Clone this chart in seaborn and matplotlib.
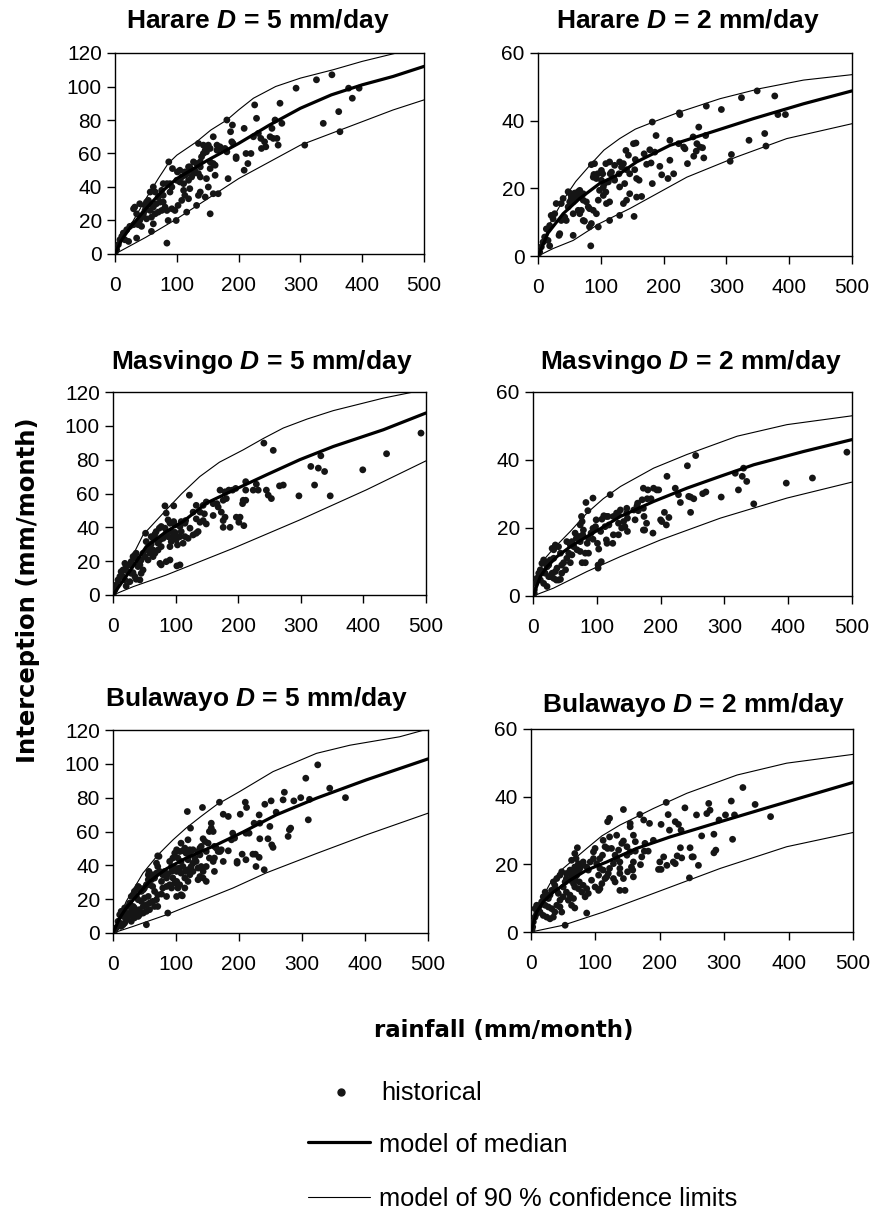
import matplotlib
matplotlib.use("Agg")
import matplotlib.pyplot as plt
import seaborn as sns
import pandas as pd
from matplotlib.lines import Line2D

# ---------------- data ----------------
x_ticks = [0, 100, 200, 300, 400, 500]

harare5_hist = [(351,107),(326,104),(293,99),(378,99),(395,99),(384,93),(267,90),(226,89),(362,85),(337,78),(270,78),(229,81),(259,80),(254,75),(181,80),(190,77),(209,75),(187,73),(224,70),(232,72),(236,69),(251,70),(256,69),(262,69),(242,67),(237,63),(244,64),(264,65),(307,65),(364,73),(159,70),(135,66),(143,65),(151,65),(154,63),(146,62),(170,64),(165,62),(178,63),(181,61),(196,58),(196,57),(212,60),(220,60),(215,54),(209,50),(159,54),(154,51),(140,58),(143,60),(138,52),(135,48),(138,46),(162,47),(148,45),(151,40),(183,45),(159,36),(167,36),(146,34),(135,35),(138,37),(132,29),(154,24),(119,52),(121,50),(113,49),(113,47),(108,46),(101,49),(93,51),(87,55),(100,44),(105,43),(111,42),(119,44),(124,46),(127,48),(129,50),(111,38),(113,35),(119,33),(121,39),(108,32),(102,29),(97,26),(92,27),(116,25),(99,20),(86,20),(84,6.5),(89,42),(84,42),(78,42),(75.5,38),(78,35),(70,34),(65,37),(62,40),(67,30),(73,31),(78,31),(81,28),(84,26),(75.5,26),(70,25),(65,24),(62,28),(57,30),(54,32),(51,31),(48.5,26),(57,26),(59,22),(51,21),(43,22),(40,20),(35,18),(30,17.5),(24,16.5),(19,14.5),(13.5,12.5),(8,8.5),(5.4,5.6),(2.7,2.6),(0.5,1),(11,10.5),(16,8.5),(22,7.5),(30,27),(32,28),(35,24),(40,30),(57,37),(62,18),(59,13.5),(35,9.5),(38,17.5),(46,24),(48.5,29),(43,16.5),(89,37),(92,40),(105,50),(116,48),(127,55),(138,55),(165,65),(148,61),(154,55),(162,53),(189,67),(191,66),(170,63),(121,52),(132,54)]
harare5_median_x = [0, 10, 25, 50, 75, 100, 150, 200, 250, 300, 350, 400, 450, 500]
harare5_median_y = [0, 8, 16, 27, 37, 45, 56, 66, 77, 87, 95, 101, 106, 112]
harare5_upper_x = [0, 25, 50, 70, 86, 100, 132, 155, 181, 200, 224, 260, 300, 353, 400, 450, 500]
harare5_upper_y = [0, 17, 33, 45, 54, 59, 67, 74, 80, 86, 93, 100, 105, 110, 115, 119.5, 124]
harare5_lower_x = [0, 50, 100, 150, 200, 250, 300, 350, 400, 450, 500]
harare5_lower_y = [0, 10, 21, 33, 45, 55, 65, 72, 79, 86, 92]

harare2_hist = [(349,48.8),(324,46.8),(377,47.3),(268,44.3),(292,43.3),(225,42.3),(226,41.8),(382,41.8),(394,41.8),(182,39.6),(256,38.1),(188,35.6),(247,35.2),(267,35.6),(361,36.2),(336,34.2),(363,32.5),(210,34.2),(224,33.2),(232,32.2),(234,31.7),(253,33.2),(258,32.2),(262,32),(252,31),(264,29),(248,29.5),(238,27.3),(308,30),(306,28),(156,33.4),(152,33.2),(140,31.2),(144,29.8),(155,28.5),(169,30.2),(178,31.4),(186,30.7),(173,27.1),(180,27.5),(194,26.5),(210,28.3),(216,24.3),(207,22.9),(197,24),(182,21.4),(154,25.5),(146,24.3),(157,22.9),(161,22.4),(141,25.5),(136,27.3),(129,24.3),(130,27.8),(122,26.8),(117,24.8),(108,27.3),(101,25.3),(95,24.3),(89,24.1),(85,27),(90,27.3),(93,22.9),(101,22.4),(106,21.4),(112,21.9),(121,22.9),(130,20.4),(138,21.4),(146,18.4),(141,16.5),(136,15.5),(130,12),(153,11.7),(165,17.6),(157,17.4),(114,10.5),(114,16),(109,15.5),(108,18.9),(104,17.9),(98,19.4),(96,16.5),(93,12.5),(96,8.6),(85,9.6),(82,8.6),(84,3),(80,14.5),(77,16),(72,16.5),(68,17.4),(64,18.4),(61,17.4),(58.5,16.5),(56,16),(53,17),(50.5,16),(48,14.5),(56,12.5),(64,13.5),(69,13.5),(72,10.5),(74,10.3),(66.5,12.5),(56,6.1),(45,10.5),(42.5,11.5),(37,10.5),(34.6,6.6),(33.5,6.1),(29,15.5),(26.6,12.5),(24,11),(21,12),(18.6,9),(13.3,8),(10.6,5.6),(8,4.1),(5.3,2.7),(2.7,1.2),(0.5,0.5),(16,4.6),(18.6,3),(37,15.5),(40,17),(48,19),(50.5,18.6),(53,17.9),(58.5,18.6),(64,19),(66.5,19.4),(82,14),(88,13.5),(72,18.4),(104,20.4),(122,22.4),(133,26.3),(115,24.3),(114,27.8),(88,23.3),(103,24.3)]
harare2_median_x = [0, 16, 40, 66.5, 98, 130, 157, 210, 269, 343, 423, 500]
harare2_median_y = [0, 6.8, 12.5, 17, 21.4, 24.3, 27.8, 32.7, 36.2, 40.6, 45, 48.8]
harare2_upper_x = [0, 19, 40, 60, 85, 105, 130, 155, 183.5, 226, 290, 354, 423, 500]
harare2_upper_y = [0, 9.6, 16.5, 22, 27.3, 31.3, 34.7, 37.5, 39.6, 42.6, 46.5, 49.5, 52, 53.6]
harare2_lower_x = [0, 24, 56, 98, 146, 237, 316.5, 396, 500]
harare2_lower_y = [0, 2.2, 4.6, 9.6, 14, 23.3, 29.3, 34.7, 39.1]

masvingo5_hist = [(492,95.7),(437,83.5),(241,89.8),(256,85.5),(332,82.3),(316,76),(328,75),(338,73),(399,74),(322,65),(347,58.6),(297,58.6),(272,65),(266,64.5),(212,67),(212,62),(224,62),(232,62),(229,65.5),(245,62),(248,59),(253,57),(208,56),(212,56),(207,54),(196,63),(191,62),(185,62),(179,61),(171,62),(181,57),(176,56),(166,54),(168,52),(160,54),(149,55),(144,53),(133,53),(122,59),(128,49),(139,49),(146,48),(144,44),(149,42),(139,43),(133,45),(160,47),(173,49),(179,46),(176,44),(176,40),(187,40),(197,46),(203,46),(201,43),(209,41),(136,37.5),(133,36.5),(128,35.5),(123,39.5),(116,44),(115,42.4),(109,43.4),(107,40.5),(99,41.4),(97,43.4),(109,37.5),(115,34.5),(120,33.5),(107,34.5),(101,35),(103,29.6),(96,34.5),(88,34.5),(93,37.5),(85,36.5),(83,39.5),(77,40.5),(74,39.5),(69,37.5),(67,36),(64,33.5),(69,32.6),(75,32.6),(80,33.5),(72,30.6),(77,28.6),(85,48.4),(83,52.7),(97,52.7),(93,31.6),(107,17.8),(102,17.2),(91,20.7),(85,19.7),(75,18.7),(77,17.8),(67,24.7),(64,26.6),(59,28.6),(56,26.6),(53,31.6),(52,36.5),(61,34.5),(48,24.7),(51,22.7),(56,20.7),(59,24.7),(45,20.7),(43,19.7),(40,16.8),(45,12.8),(48,14.8),(37,24.7),(35,23.7),(32,22.7),(36,21.7),(29,19.7),(27,17.8),(21,16.8),(19,18.7),(16,14.8),(13,13.8),(11,10.9),(8,8.9),(5,5.9),(3,3),(0.5,0.5),(24,13.8),(29,12.8),(35,10.9),(37,9.3),(43,8.9),(19,8.9),(21,5.3),(27,7.9),(16,10.9),(32,13.2),(43,17.8),(61,30),(64,22.7),(72,26.6),(91,28.6),(101,32.6),(112,30.6),(99,37),(91,42.4),(88,44.4)]
masvingo5_median_x = [0, 32, 53, 85, 112, 149, 202.6, 245, 298.5, 352, 432, 500]
masvingo5_median_y = [0, 16.8, 28.6, 37.5, 43.4, 54.3, 63.7, 71, 80, 87.8, 97.7, 107.6]
masvingo5_upper_x = [0, 32, 48, 85, 110, 138.6, 170, 208, 240, 272, 310, 352, 432, 480, 500]
masvingo5_upper_y = [0, 23.7, 35.5, 50.3, 60, 70, 78.5, 85.8, 92.5, 98.7, 104, 109, 116.4, 120, 121.5]
masvingo5_lower_x = [0, 32, 85, 192, 298.5, 405, 500]
masvingo5_lower_y = [0, 4.9, 11.8, 27.6, 44.4, 62.2, 79.3]

masvingo2_hist = [(492,42.3),(438,34.7),(397,33.2),(255,41.3),(242,38.3),(210,35.2),(317,36.1),(330,37.6),(328,35.2),(335,33.7),(322,31.2),(295,29.1),(346,27.1),(266,30.1),(271,30.6),(223,31.7),(228,29.8),(231,27.5),(244,29.3),(252,28.6),(247,24.6),(206,24.6),(213,23.1),(209,20.9),(200,22.4),(202,21.9),(197,31.2),(189,31.7),(180,31.2),(173,31.7),(171,28.3),(179,28.6),(185,28.6),(173,25.8),(163,26.5),(165,25.1),(158,25.3),(174,23.4),(178,21.4),(173,19.4),(175,19.4),(188,18.5),(160,22.4),(147,25.8),(148,22.9),(142,21.9),(144,20.4),(148,19),(134,23.9),(131,24.4),(126,23.4),(134,21.4),(139,20),(134,18),(126,18),(125,15.5),(121,29.8),(119,20.9),(115,23.4),(111,23.6),(108,22.6),(113,20.4),(115,16.5),(116,15.5),(106,19),(99,22.4),(98,20.4),(94,19.9),(91,18.5),(94,16.7),(87,17),(85,15.5),(101,15.5),(103,13.8),(107,10.1),(102,9.1),(102,8.2),(94,28.8),(83,27.5),(86,25.1),(76,23.4),(77,21.9),(74,20.9),(79,19.4),(78,18),(74,16),(72,17.5),(66,18.5),(68,17),(61,16),(58.5,15),(64,14.5),(69,13.6),(74,13.1),(82,12.6),(87,12.6),(77,9.8),(82,9.8),(61,12.1),(56,12.6),(53,16),(53,11.1),(48,9.8),(58.5,9.8),(51,7.7),(45,9.1),(43,12.6),(40,14.5),(35,15),(32.4,13.6),(30,14),(32.4,11.1),(27,10.6),(24.6,9.1),(22,8.6),(19,10.1),(16.7,10.6),(14,9.6),(11.5,7.7),(9,6.7),(6,5.2),(3.7,3.7),(2,1.8),(2,0.8),(11.5,4.7),(16.7,3.7),(22,2.8),(24.6,5.7),(27,5.7),(32.4,5.2),(36.6,4.7),(40,4.7),(43,4.9),(30,6.7),(35,7.2),(37.6,8.2),(19,6.7),(16.7,7.2),(45,6.7),(117.6,23.4),(137,25.3),(147,24.4),(164,27.3),(194,31.2),(247,29.1)]
masvingo2_median_x = [0, 11.5, 22, 37.6, 58.5, 84.6, 111, 137, 189, 241, 293.6, 346, 424, 500]
masvingo2_median_y = [0, 5.7, 8.6, 11.6, 14.5, 17.5, 20.4, 23.4, 27.8, 31.7, 35.2, 38.6, 42.5, 46]
masvingo2_upper_x = [0, 16.7, 32.4, 58.5, 84.6, 110, 137, 189, 241, 320, 398, 500]
masvingo2_upper_y = [0, 10.6, 14, 19, 24.4, 28.6, 32.2, 37.6, 41.6, 47, 50.4, 53]
masvingo2_lower_x = [0, 32, 84.6, 137, 200, 293.6, 398, 500]
masvingo2_lower_y = [0, 2.3, 7.2, 11.6, 16.5, 22.9, 28.8, 33.5]

bulawayo5_hist = [(325,99.4),(306,91.5),(344,85.6),(369,80),(298,80),(312,79),(272,83.2),(270,78.7),(287,78.1),(251,78.1),(259,71.4),(241,76.1),(232,69.8),(210,77.3),(212,74.2),(202,70.2),(183,68.9),(175,70.2),(169,77.3),(142,74.2),(118,71.8),(123,62),(156,64.9),(156,62),(153,60),(159,60),(143,55.7),(146,54.1),(140,51.2),(151,53.1),(161,51.2),(167,48.2),(164,50.2),(172,49.2),(183,48.6),(188,55.1),(193,56.1),(190,59),(211,59),(216,59),(249,63),(233,64.9),(224,64.9),(280,61),(282,62),(278,57.1),(310,66.9),(246,55.7),(233,55.7),(252,52.1),(254,50.6),(197,42.3),(197,41.3),(205,46.6),(211,43.3),(222,46.6),(226,46.6),(232,44.7),(227,39.3),(240,37.4),(175,42.3),(161,36.4),(148,30.5),(138,33.4),(143,32.5),(135,38.4),(140,39.3),(132,42.3),(127,41.3),(130,44.3),(135,48.2),(138,50.2),(127,49.2),(122,46.2),(119,43.3),(124,39.3),(119,37.4),(115,36.4),(122,34.4),(114,32.5),(119,30.5),(110,22),(106,28.5),(103,26.6),(101,30.5),(108,35.4),(105,38.4),(111,39.3),(108,42.3),(103,44.3),(98,47.2),(101,49.2),(106,48.2),(111,48.6),(116,47.2),(114,50.2),(95,44.3),(90,42.3),(93,39.3),(98,38.4),(93,36.4),(87,34.8),(85,32.5),(95,32.5),(98,29.5),(90,28.5),(85,27.5),(79,26.6),(77,30.5),(79,34.4),(74,36.4),(71,39.3),(69,41.3),(73,45.3),(87,11.8),(53,4.9),(77,23),(71,22.6),(66,24.6),(63,27.5),(58,28.5),(61,31.5),(66,32.5),(69,35.4),(63,34.4),(57,36.4),(56,34.4),(56,31.5),(53,28.5),(50,26.6),(48,25.6),(45,24.6),(42,26.6),(40,27.5),(37,25.6),(34,24.6),(37,21.6),(40,19.7),(45,18.7),(50,20.7),(56,21.6),(58,17.7),(53,16.7),(48,15.7),(42,13.8),(37,11.8),(34,14.8),(32,15.7),(29,12.8),(26.5,10.8),(24,9.8),(21,7.9),(18.5,5.9),(16,4.9),(13,3.9),(10.6,5.9),(8,6.9),(5,3),(2.6,1.4),(0.5,0.5),(16,9.8),(21,11.8),(24,15.7),(26.5,17.7),(29,21.6),(32,22.6),(18.5,14.8),(13,12.8),(10.6,10.8),(32,10.8),(34,8.9),(40,9.8),(29,6.9),(42,10.8),(48,11.8),(53,12.8),(58,13.8),(63,18.7),(69,19.7),(71,15.7),(66,15.7),(85,21.6),(82,36.4),(71,45.6),(108,53.1),(119,55.1),(122,49.2),(138,46.2),(148,48.2),(153,44.3),(159,42.3),(148,39.3),(114,26.6),(108,22.6),(101,21.6),(93,26.6),(101,36.4),(127,36.4),(135,31.5),(143,36.4),(161,44.3),(170,48.2)]
bulawayo5_median_x = [0, 10.6, 21, 37, 58, 85, 116, 164, 206, 259, 323, 402, 500]
bulawayo5_median_y = [0, 8.9, 14.8, 21.6, 30.5, 38, 44.3, 52.1, 59.6, 69.8, 79.7, 90.5, 102.9]
bulawayo5_upper_x = [0, 21, 47.6, 71.4, 95, 116, 140, 164, 201, 254, 290, 323, 376, 455, 500]
bulawayo5_upper_y = [0, 18.7, 35.4, 46.2, 55, 62, 69, 75.7, 83.6, 95.4, 101, 106.2, 111, 116, 120.6]
bulawayo5_lower_x = [0, 32, 85, 137.6, 190.5, 243, 323, 402, 500]
bulawayo5_lower_y = [0, 3.9, 10.8, 18.7, 26.6, 35.5, 47, 58, 70.8]

bulawayo2_hist = [(329,42.7),(311,38.7),(348,37.7),(372,34.1),(276,38),(278,36),(273,35),(292,33.1),(302,34.6),(316,34.6),(239,36.7),(257,34.6),(265,28.4),(284,28.9),(287,24.2),(284,23.4),(313,27.4),(210,38.3),(213,34.7),(202,31.8),(215,30.1),(224,32.6),(229,31.8),(233,30.1),(232,24.9),(234,21.9),(227,22.5),(221,20.7),(224,20.2),(211,19.7),(198,18.5),(202,18.5),(206,22.2),(247,24.9),(252,22.2),(250,22.2),(260,19.7),(246,16),(143.5,36.2),(169,34.7),(175,33.1),(184,32.1),(154,32.1),(154,31.1),(159,28.6),(143.5,26.9),(141,26.2),(190,27.1),(177,26.2),(182,23.9),(176,23.9),(172,22.2),(170,19.9),(162,23.9),(154,23.7),(149,22.7),(159,20.7),(156,19.2),(158,18.3),(159,16.3),(146,12.3),(150,17.8),(143.5,15.8),(138,17.3),(138,18.8),(138,20.7),(133,21.7),(130.6,22.7),(128,20.2),(122,18.8),(120,17.3),(117.6,16.3),(122,33.6),(119,32.6),(122,28.1),(112,27.1),(115,25.2),(119,24.7),(111,22.7),(107,21.7),(99.5,24.7),(97,23.7),(97,21.7),(102,20.2),(107,18.8),(112,18.3),(115,15.8),(110,14.3),(107,12.8),(105,12.3),(99.5,13.3),(94,15.3),(89,18.3),(86.5,19.2),(92,20.7),(81,20.7),(79,19.7),(76,18.8),(73.6,17.8),(71,16.8),(68,15.8),(75,14.8),(81,13.8),(86.5,12.8),(89,11.4),(84,10.4),(79,11.8),(73.6,12.8),(68,13.3),(66,14.3),(60.6,15.3),(63,16.8),(66,18.3),(68,19.2),(60.6,18.3),(55,17.3),(55,15.8),(53,14.8),(50,13.3),(55,11.8),(60.6,10.9),(66,9.9),(68,7.1),(63,7.9),(58,9.4),(50,10.4),(45,9.4),(42.5,11.4),(40,12.3),(37,13.8),(40,15.8),(45,16.8),(47.7,17.8),(72,24.9),(68,23.2),(63,21.2),(70,21.7),(73.6,20.2),(34.7,14.8),(32,12.3),(29.5,10.9),(27,9.9),(24.4,10.9),(22,11.8),(19,10.4),(16.6,8.9),(14,7.9),(11.4,6.9),(8.8,5.4),(6.2,4.4),(3.6,3),(2.6,1.5),(1.6,0.7),(6.2,6.9),(8.8,7.9),(14,5.9),(19,4.9),(24.4,4.4),(29.5,3.9),(34.7,4.4),(37,5.9),(32,6.9),(27,7.4),(22,7.9),(40,7.9),(45,7.4),(47.7,5.9),(53,2),(86.5,5.6),(105,16.8),(128,15.8),(138,12.3),(130.6,14.8),(125,24.7),(136,24.2),(149,25.2),(162,26.7),(133,28.6),(200,20.7)]
bulawayo2_median_x = [0, 8.8, 19, 34.7, 60.6, 86.5, 117.6, 164, 216, 294, 371.5, 500]
bulawayo2_median_y = [0, 5.9, 8.9, 11.8, 15.3, 18.3, 20.7, 24.7, 28.1, 32.6, 37, 44.2]
bulawayo2_upper_x = [0, 14, 29.5, 50, 86.5, 110, 138, 190, 242, 320, 397, 500]
bulawayo2_upper_y = [0, 8.9, 14.3, 18.8, 24.7, 28.4, 31.6, 36.5, 41, 46.4, 49.9, 52.5]
bulawayo2_lower_x = [0, 50, 112.4, 190, 294, 397, 500]
bulawayo2_lower_y = [0, 2, 5.9, 11.4, 18.8, 25.2, 29.4]

titles = ["Harare $D$ = 5 mm/day", "Harare $D$ = 2 mm/day",
          "Masvingo $D$ = 5 mm/day", "Masvingo $D$ = 2 mm/day",
          "Bulawayo $D$ = 5 mm/day", "Bulawayo $D$ = 2 mm/day"]
y_label = "Interception (mm/month)"
x_label = "rainfall (mm/month)"
legend_labels = ["historical", "model of median", "model of 90 % confidence limits"]

# ---------------- style ----------------
sns.set_style("ticks")
plt.rcParams["font.family"] = ["Liberation Sans", "DejaVu Sans"]
plt.rcParams["text.color"] = "black"
plt.rcParams["axes.labelcolor"] = "black"
plt.rcParams["xtick.color"] = "black"
plt.rcParams["ytick.color"] = "black"
plt.rcParams["mathtext.fontset"] = "custom"
plt.rcParams["mathtext.rm"] = "Liberation Sans:bold"
plt.rcParams["mathtext.it"] = "Liberation Sans:italic:bold"
plt.rcParams["mathtext.bf"] = "Liberation Sans:bold"

W, H = 876, 1211
fig = plt.figure(figsize=(W / 100, H / 100), dpi=100)
fig.patch.set_facecolor("white")


def rect(l, r, t, b):
    return [l / W, 1 - b / H, (r - l) / W, (b - t) / H]


panels = [
    dict(hist=harare5_hist, med=(harare5_median_x, harare5_median_y),
         up=(harare5_upper_x, harare5_upper_y), lo=(harare5_lower_x, harare5_lower_y),
         box=(115, 424, 53, 254), ymax=120, title=titles[0], tpos=(258, 28)),
    dict(hist=harare2_hist, med=(harare2_median_x, harare2_median_y),
         up=(harare2_upper_x, harare2_upper_y), lo=(harare2_lower_x, harare2_lower_y),
         box=(538, 852, 53, 256), ymax=60, title=titles[1], tpos=(688, 28)),
    dict(hist=masvingo5_hist, med=(masvingo5_median_x, masvingo5_median_y),
         up=(masvingo5_upper_x, masvingo5_upper_y), lo=(masvingo5_lower_x, masvingo5_lower_y),
         box=(113, 426, 392, 595), ymax=120, title=titles[2], tpos=(262, 369)),
    dict(hist=masvingo2_hist, med=(masvingo2_median_x, masvingo2_median_y),
         up=(masvingo2_upper_x, masvingo2_upper_y), lo=(masvingo2_lower_x, masvingo2_lower_y),
         box=(533, 852, 392, 596), ymax=60, title=titles[3], tpos=(691, 369)),
    dict(hist=bulawayo5_hist, med=(bulawayo5_median_x, bulawayo5_median_y),
         up=(bulawayo5_upper_x, bulawayo5_upper_y), lo=(bulawayo5_lower_x, bulawayo5_lower_y),
         box=(113, 428, 730, 933), ymax=120, title=titles[4], tpos=(257, 706)),
    dict(hist=bulawayo2_hist, med=(bulawayo2_median_x, bulawayo2_median_y),
         up=(bulawayo2_upper_x, bulawayo2_upper_y), lo=(bulawayo2_lower_x, bulawayo2_lower_y),
         box=(531, 853, 729, 932), ymax=60, title=titles[5], tpos=(694, 712)),
]

dot_color = "#151515"

for p in panels:
    ax = fig.add_axes(rect(*p["box"]))
    df = pd.DataFrame(p["hist"], columns=["rainfall", "interception"])
    sns.scatterplot(data=df, x="rainfall", y="interception", ax=ax, s=24,
                    color=dot_color, edgecolor="none", linewidth=0, zorder=3)
    for key, lw in (("up", 0.8), ("lo", 0.8), ("med", 2.3)):
        xs, ys = p[key]
        sns.lineplot(x=xs, y=ys, ax=ax, color="black", lw=lw, estimator=None,
                     sort=False, zorder=4 if key == "med" else 2)
    ax.set_xlim(0, 500)
    ax.set_ylim(0, p["ymax"])
    ax.set_xticks(x_ticks)
    ax.set_yticks(list(range(0, p["ymax"] + 1, 20)))
    ax.set_xlabel("")
    ax.set_ylabel("")
    for s in ax.spines.values():
        s.set_visible(True)
        s.set_color("black")
        s.set_linewidth(1.0)
    ax.tick_params(axis="both", direction="out", length=5.5, width=1.0,
                   color="black", labelsize=15, labelcolor="black")
    ax.tick_params(axis="x", pad=10)
    ax.tick_params(axis="y", pad=4)
    ax.set_facecolor("white")
    ax.grid(False)
    fig.text(p["tpos"][0] / W, 1 - p["tpos"][1] / H, p["title"], ha="center",
             va="baseline", fontsize=19, fontweight="bold", color="black")

fig.text(28 / W, 1 - 590 / H, y_label, rotation=90, ha="center", va="center",
         fontsize=17.5, fontweight="bold", family=["DejaVu Sans"], color="black")
fig.text(504 / W, 1 - 1030 / H, x_label, ha="center", va="center",
         fontsize=16.5, fontweight="bold", family=["DejaVu Sans"], color="black")

# legend (manual, below the panels)
fig.add_artist(Line2D([341 / W], [1 - 1092 / H], marker="o", ms=5, ls="none",
                      color=dot_color, transform=fig.transFigure))
fig.text(381 / W, 1 - 1100 / H, legend_labels[0], fontsize=18.3, va="baseline")
fig.add_artist(Line2D([308 / W, 370 / W], [1 - 1142 / H] * 2, lw=2.3, color="black",
                      transform=fig.transFigure))
fig.text(379 / W, 1 - 1151.5 / H, legend_labels[1], fontsize=18.3, va="baseline")
fig.add_artist(Line2D([308 / W, 370 / W], [1 - 1197 / H] * 2, lw=0.8, color="black",
                      transform=fig.transFigure))
fig.text(379 / W, 1 - 1206.5 / H, legend_labels[2], fontsize=18.3, va="baseline")

fig.savefig("out.png", dpi=100, facecolor="white")
